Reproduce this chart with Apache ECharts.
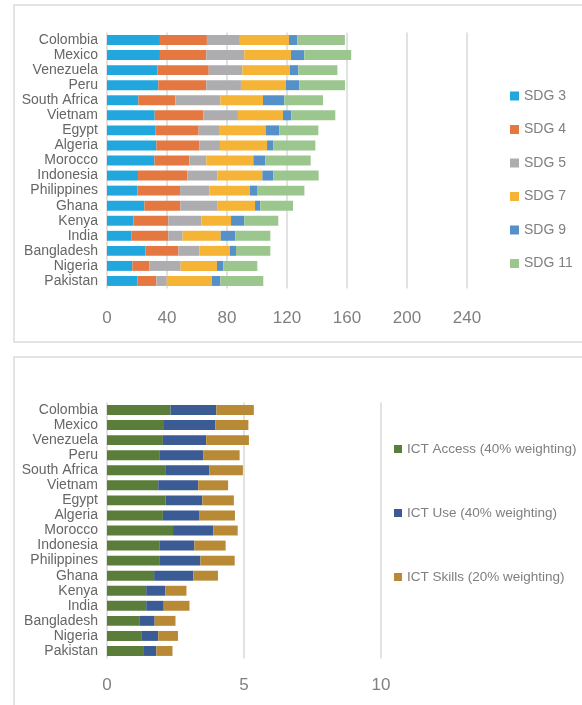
<!DOCTYPE html>
<html>
<head>
<meta charset="utf-8">
<script src="https://cdn.jsdelivr.net/npm/echarts@6/dist/echarts.min.js"></script>
<style>
  html, body { margin: 0; padding: 0; background: #fff; }
  #chart { width: 582px; height: 705px; }
</style>
</head>
<body>
<div id="chart"></div>
<script>
// countries, top to bottom
const countries = ['Colombia', 'Mexico', 'Venezuela', 'Peru', 'South Africa', 'Vietnam', 'Egypt', 'Algeria',
  'Morocco', 'Indonesia', 'Philippines', 'Ghana', 'Kenya', 'India', 'Bangladesh', 'Nigeria', 'Pakistan']

// top chart: SDG scores
const sdg3 = [35.3, 35.3, 33.6, 34.2, 20.9, 31.8, 32.2, 32.9, 31.6, 20.7, 20.2, 24.9, 17.6, 16.2, 25.6, 16.9, 20.2]
const sdg4 = [31.3, 30.9, 34.2, 32.0, 24.7, 32.4, 28.9, 28.6, 23.3, 32.9, 28.5, 24.0, 23.3, 24.7, 22.0, 11.3, 12.7]
const sdg5 = [22.0, 25.3, 22.4, 23.1, 30.0, 23.1, 13.6, 13.8, 11.3, 20.0, 19.5, 24.9, 22.0, 9.5, 14.0, 20.9, 6.9]
const sdg7 = [32.7, 31.1, 31.8, 30.0, 28.4, 30.0, 31.1, 31.4, 31.4, 30.0, 27.1, 24.9, 19.8, 25.4, 20.4, 24.2, 30.2]
const sdg9 = [5.5, 8.9, 5.6, 8.9, 14.2, 5.6, 9.1, 4.2, 8.0, 7.3, 5.1, 3.5, 8.9, 9.8, 4.0, 4.3, 5.6]
const sdg11 = [31.8, 31.3, 26.0, 30.5, 25.8, 29.3, 26.0, 28.0, 30.2, 30.2, 31.2, 21.8, 22.6, 23.3, 22.9, 22.6, 28.6]
const sdgTicks = [0, 40, 80, 120, 160, 200, 240]

// bottom chart: ICT pillars
const ictAccess = [2.32, 2.08, 2.04, 1.93, 2.15, 1.87, 2.14, 2.04, 2.41, 1.91, 1.93, 1.72, 1.43, 1.43, 1.20, 1.25, 1.32]
const ictUse = [1.67, 1.87, 1.58, 1.58, 1.58, 1.46, 1.34, 1.34, 1.47, 1.28, 1.48, 1.43, 0.70, 0.64, 0.54, 0.62, 0.48]
const ictSkills = [1.37, 1.21, 1.56, 1.33, 1.23, 1.09, 1.15, 1.29, 0.89, 1.14, 1.25, 0.90, 0.77, 0.94, 0.76, 0.72, 0.59]
const ictTicks = [0, 5, 10]

const sdgNames = ['SDG 3', 'SDG 4', 'SDG 5', 'SDG 7', 'SDG 9', 'SDG 11']
const sdgColors = ['#21a7de', '#e57841', '#adadb0', '#f5b435', '#5590c8', '#9bc78f']
const ictNames = ['ICT Access (40% weighting)', 'ICT Use (40% weighting)', 'ICT Skills (20% weighting)']
const ictColors = ['#5a7e3a', '#3b5b94', '#b98a35']

const chart = echarts.init(document.getElementById('chart'))

const catAxis = (gridIndex) => ({
  type: 'category',
  gridIndex,
  data: countries,
  inverse: true,
  axisLine: { show: false },
  axisTick: { show: false },
  axisLabel: { interval: 0, color: '#666', fontSize: 14, fontFamily: 'Liberation Sans', margin: 9 }
})

const valAxis = (gridIndex, max, interval, margin) => ({
  type: 'value',
  gridIndex,
  min: 0,
  max,
  interval,
  axisLine: { show: false },
  axisTick: { show: false },
  axisLabel: { color: '#7f7f7f', fontSize: 17, fontFamily: 'Liberation Sans', margin },
  splitLine: { lineStyle: { color: '#d9d9d9', width: 1.5 } }
})

const barSeries = (name, data, color, idx) => ({
  name,
  type: 'bar',
  stack: 'total' + idx,
  xAxisIndex: idx,
  yAxisIndex: idx,
  data,
  barCategoryGap: '34%',
  itemStyle: { color },
  emphasis: { disabled: true }
})

const sdgData = [sdg3, sdg4, sdg5, sdg7, sdg9, sdg11]
const ictData = [ictAccess, ictUse, ictSkills]

const option = {
  animation: false,
  graphic: [
    { type: 'rect', shape: { x: 14, y: 5, width: 600, height: 337 }, style: { fill: 'none', stroke: '#dcdcdc', lineWidth: 1.5 } },
    { type: 'rect', shape: { x: 14, y: 357, width: 600, height: 400 }, style: { fill: 'none', stroke: '#dcdcdc', lineWidth: 1.5 } }
  ],
  grid: [
    { left: 107, width: 360, top: 32.5, height: 256 },
    { left: 107, width: 274, top: 402.5, height: 256 }
  ],
  legend: [
    {
      data: sdgNames,
      orient: 'vertical',
      left: 505,
      top: 84,
      itemWidth: 9,
      itemHeight: 9,
      itemGap: 19.5,
      icon: 'rect',
      textStyle: { color: '#7f7f7f', fontSize: 14, fontFamily: 'Liberation Sans', lineHeight: 14 }
    },
    {
      data: ictNames,
      orient: 'vertical',
      left: 389,
      top: 436,
      itemWidth: 8,
      itemHeight: 8,
      itemGap: 48,
      icon: 'rect',
      textStyle: { color: '#7f7f7f', fontSize: 13.5, fontFamily: 'Liberation Sans', lineHeight: 16 }
    }
  ],
  xAxis: [
    valAxis(0, sdgTicks[sdgTicks.length - 1], sdgTicks[1] - sdgTicks[0], 21),
    valAxis(1, ictTicks[ictTicks.length - 1], ictTicks[1] - ictTicks[0], 18)
  ],
  yAxis: [catAxis(0), catAxis(1)],
  series: [
    ...sdgNames.map((n, i) => barSeries(n, sdgData[i], sdgColors[i], 0)),
    ...ictNames.map((n, i) => barSeries(n, ictData[i], ictColors[i], 1))
  ]
}

chart.setOption(option)
</script>
</body>
</html>
